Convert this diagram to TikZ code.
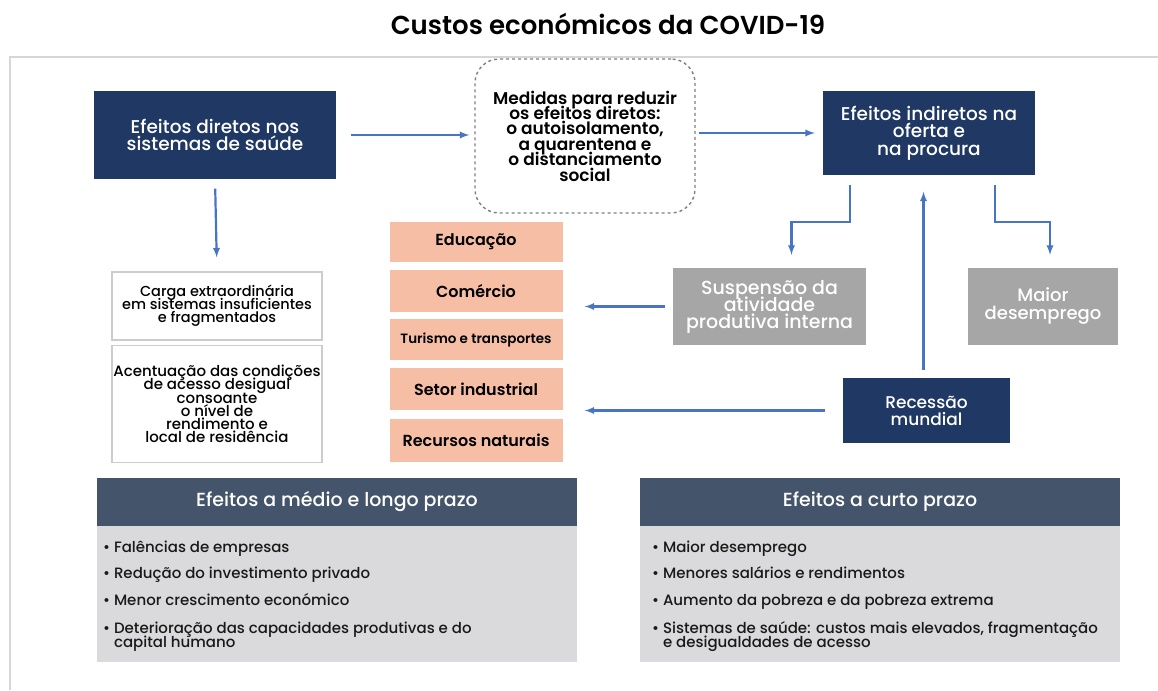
\documentclass[tikz,border=0pt]{standalone}
\usepackage{fontspec}
\setmainfont{Poppins}
\newfontfamily\medium{Poppins Medium}
\newfontfamily\semibold{Poppins SemiBold}
\definecolor{navy}{RGB}{32,56,100}
\definecolor{slate}{RGB}{68,84,106}
\definecolor{panelgray}{RGB}{218,218,220}
\definecolor{boxgray}{RGB}{166,166,166}
\definecolor{salmon}{RGB}{246,190,164}
\definecolor{arrowblue}{RGB}{72,116,196}
\definecolor{framegray}{RGB}{214,214,214}

\begin{document}
\lineskiplimit=-100pt
\begin{tikzpicture}[x=1pt,y=-1pt]

\tikzstyle{navybox}=[fill=navy, text=white, inner sep=0pt, align=center,
    font=\medium\fontsize{18.5}{17}\selectfont]
\tikzstyle{graybox}=[fill=boxgray, text=white, inner sep=0pt, align=center,
    font=\medium\fontsize{19}{17}\selectfont]
\tikzstyle{whitebox}=[draw=black!20, line width=1.2pt, fill=white, inner sep=0pt,
    align=center, font=\medium\fontsize{14.5}{13}\selectfont]
\tikzstyle{sector}=[fill=salmon, minimum width=173pt, inner sep=0pt,
    font=\semibold\fontsize{16}{18}\selectfont]
\tikzstyle{header}=[fill=slate, text=white, minimum width=480pt, minimum height=48pt,
    inner sep=0pt, font=\medium\fontsize{19}{20}\selectfont]
\tikzstyle{panel}=[fill=panelgray, minimum width=480pt, minimum height=136pt,
    inner sep=0pt]
\tikzstyle{item}=[anchor=base west, inner sep=0pt, text=black!90,
    font=\medium\fontsize{15}{14}\selectfont]
\tikzstyle{arr}=[->,>=latex, arrowblue, line width=2.2pt]

  \useasboundingbox (0,0) rectangle (1158,690);

  % frame
  \draw[framegray, line width=1.8pt] (10,690) -- (10,57) -- (1158,57);

  \node[font=\semibold\fontsize{26}{28}\selectfont] (title) at (608,24) {Custos económicos da COVID-19};

  \node[navybox, minimum width=242pt, minimum height=87pt] (direct) at (215,135)
    {Efeitos diretos nos\\sistemas de saúde};
  \node[draw=black!50, dashed, line width=1.4pt, rounded corners=24pt,
    minimum width=220pt, minimum height=154pt, inner sep=0pt, align=center,
    font=\semibold\fontsize{17}{15.4}\selectfont] (measures) at (585,136)
    {Medidas para reduzir\\os efeitos diretos:\\o autoisolamento,\\a quarentena e\\o distanciamento\\social};
  \node[navybox, minimum width=212pt, minimum height=83pt, font=\medium\fontsize{18.5}{17.5}\selectfont] (indirect) at (929,133)
    {Efeitos indiretos na\\oferta e\\na procura};

  \node[whitebox, minimum width=210pt, minimum height=68pt] (carga) at (217,306)
    {Carga extraordinária\\em sistemas insuficientes\\e fragmentados};
  \node[whitebox, minimum width=210pt, minimum height=117pt,
    font=\medium\fontsize{15}{13.3}\selectfont] (acesso) at (217,404)
    {Acentuação das condições\\de acesso desigual\\consoante\\o nível de\\rendimento e\\local de residência};

  % sectors
  \node[sector, minimum height=40pt] (edu) at (476,242) {Educação};
  \node[sector, minimum height=42pt] (com) at (476,291) {Comércio};
  \node[sector, minimum height=41pt, font=\semibold\fontsize{13.5}{15}\selectfont] (tur) at (476,339.5) {Turismo e transportes};
  \node[sector, minimum height=42pt] (ind) at (476,389) {Setor industrial};
  \node[sector, minimum height=43pt] (nat) at (476,440.5) {Recursos naturais};

  \node[graybox, minimum width=193pt, minimum height=77pt] (susp) at (769.5,306.5)
    {Suspensão da\\atividade\\produtiva interna};
  \node[graybox, minimum width=150pt, minimum height=77pt, font=\medium\fontsize{18}{18}\selectfont] (desemp) at (1043,306.5)
    {Maior\\desemprego};
  \node[navybox, minimum width=167pt, minimum height=65pt, font=\medium\fontsize{17}{17}\selectfont] (recess) at (926.5,410.5)
    {Recessão\\mundial};

  \draw[arr, shorten <=15pt, shorten >=5pt] (direct.east) -- (direct.east -| measures.west);
  \draw[arr, shorten <=3pt, shorten >=8pt] (measures.east |- indirect) -- (indirect.west);
  \draw[arr, shorten <=10pt, shorten >=14pt] (direct.south) -- (carga.north);
  \draw[arr, shorten <=10pt, shorten >=13pt] ([xshift=-79pt]indirect.south) -- ++(0,47) -| ([xshift=22pt]susp.north);
  \draw[arr, shorten <=10pt, shorten >=13pt] ([xshift=66pt]indirect.south) -- ++(0,47) -| ([xshift=7pt]desemp.north);
  \draw[arr, shorten <=8pt, shorten >=22pt] (susp.west) -- (susp.west -| com.east);
  \draw[arr, shorten <=18pt, shorten >=22pt] (recess.west) -- (recess.west -| ind.east);
  \draw[arr, shorten <=8pt, shorten >=17pt] ([xshift=-3pt]recess.north) -- ([xshift=-3pt]recess.north |- indirect.south);

  % medium and long term
  \node[header] (hlong) at (337,502) {Efeitos a médio e longo prazo};
  \node[panel] (plong) at (337,594) {};
  \node[item] (l1) at (103,552) {\textbullet\ Falências de empresas};
  \node[item] (l2) at (103,578) {\textbullet\ Redução do investimento privado};
  \node[item] (l3) at (103,605) {\textbullet\ Menor crescimento económico};
  \node[item] (l4) at (103,633) {\textbullet\ Deterioração das capacidades produtivas e do};
  \node[item] (l4b) at (103,647) {\hphantom{\textbullet\ }capital humano};

  % short term
  \node[header] (hshort) at (880,502) {Efeitos a curto prazo};
  \node[panel] (pshort) at (880,594) {};
  \node[item] (s1) at (652,552) {\textbullet\ Maior desemprego};
  \node[item] (s2) at (652,578) {\textbullet\ Menores salários e rendimentos};
  \node[item] (s3) at (652,605) {\textbullet\ Aumento da pobreza e da pobreza extrema};
  \node[item] (s4) at (652,633) {\textbullet\ Sistemas de saúde: custos mais elevados, fragmentação};
  \node[item] (s4b) at (652,647) {\hphantom{\textbullet\ }e desigualdades de acesso};

\end{tikzpicture}
\end{document}
